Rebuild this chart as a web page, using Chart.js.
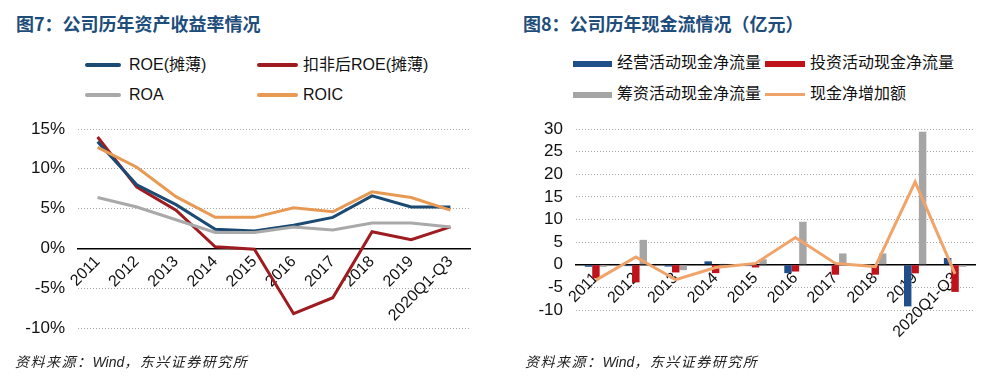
<!DOCTYPE html>
<html>
<head>
<meta charset="utf-8">
<script src="https://cdn.jsdelivr.net/npm/chart.js@4/dist/chart.umd.min.js"></script>
<style>
  body { margin: 0; background: #fff; width: 993px; height: 377px; position: relative; overflow: hidden;
         font-family: "Liberation Sans", "Noto Sans CJK SC", sans-serif; }
  .titulo { position: absolute; top: 11px; font-family: "Noto Sans CJK SC"; font-weight: bold; font-size: 18px;
            color: #1E4D7B; line-height: 24px; white-space: nowrap; }
  .leg { position: absolute; font-size: 16px; color: #111; line-height: 20px; white-space: nowrap;
         font-family: "Liberation Sans", "Noto Sans CJK SC", sans-serif; }
  .leg i { position: absolute; display: block; }
  .fonte { position: absolute; top: 351px; font-family: "Noto Sans CJK SC"; font-style: italic; font-size: 14px;
           letter-spacing: 1.5px; color: #222; white-space: nowrap; }
  .fonte b { font-family: "Liberation Sans"; font-weight: normal; letter-spacing: 0; }
  canvas { position: absolute; }
</style>
</head>
<body>
<div class="titulo" style="left:16px">图7：公司历年资产收益率情况</div>
<div class="titulo" style="left:523px">图8：公司历年现金流情况（亿元）</div>

<div class="leg" style="left:0;top:0">
  <i style="left:85px;top:63px;width:36px;height:4px;background:#1B4A72;border-radius:2px"></i>
  <span style="position:absolute;left:129px;top:55px">ROE(摊薄)</span>
  <i style="left:257px;top:63px;width:41px;height:4px;background:#9E1B20;border-radius:2px"></i>
  <span style="position:absolute;left:303px;top:55px">扣非后ROE(摊薄)</span>
  <i style="left:85px;top:93px;width:36px;height:4px;background:#A9A9A9;border-radius:2px"></i>
  <span style="position:absolute;left:129px;top:85px">ROA</span>
  <i style="left:257px;top:93px;width:41px;height:4px;background:#E89A55;border-radius:2px"></i>
  <span style="position:absolute;left:303px;top:85px">ROIC</span>
</div>

<div class="leg" style="left:0;top:0">
  <i style="left:573px;top:61px;width:39px;height:6px;background:#1F4E8A"></i>
  <span style="position:absolute;left:617px;top:53px">经营活动现金净流量</span>
  <i style="left:765px;top:61px;width:40px;height:6px;background:#C0121A"></i>
  <span style="position:absolute;left:810px;top:53px">投资活动现金净流量</span>
  <i style="left:573px;top:92px;width:39px;height:6px;background:#A5A5A5"></i>
  <span style="position:absolute;left:617px;top:84px">筹资活动现金净流量</span>
  <i style="left:765px;top:93px;width:40px;height:3px;background:#F0A46A"></i>
  <span style="position:absolute;left:810px;top:84px">现金净增加额</span>
</div>

<canvas id="grafico_roe" width="480" height="247" style="left:0;top:105px"></canvas>
<canvas id="grafico_caixa" width="485" height="247" style="left:500px;top:105px"></canvas>

<div class="fonte" style="left:15px">资料来源：<b>Wind</b>，东兴证券研究所</div>
<div class="fonte" style="left:525px">资料来源：<b>Wind</b>，东兴证券研究所</div>

<script>
// dados
const anos = ['2011', '2012', '2013', '2014', '2015', '2016', '2017', '2018', '2019', '2020Q1-Q3'];

const roe = [13.4, 8.0, 5.5, 2.4, 2.2, 2.9, 3.9, 6.6, 5.2, 5.2];
const roe_kf = [14.0, 7.7, 4.8, 0.2, -0.1, -8.2, -6.2, 2.1, 1.1, 2.7];
const roa = [6.4, 5.2, 3.6, 2.0, 2.0, 2.7, 2.3, 3.2, 3.2, 2.7];
const roic = [12.7, 10.2, 6.5, 3.9, 3.9, 5.1, 4.6, 7.1, 6.4, 4.8];

const caixa_operacional = [-0.45, -0.3, -0.4, 0.75, -0.3, -1.85, -0.2, -0.3, -9.2, 1.5];
const caixa_investimento = [-3.0, -3.9, -1.7, -1.85, -0.6, -1.5, -2.2, -2.2, -1.9, -6.0];
const caixa_financiamento = [-0.45, 5.5, -1.2, 0.2, 1.2, 9.5, 2.5, 2.5, 29.4, -0.45];
const caixa_liquido = [-3.4, 1.7, -3.3, -0.6, 0.3, 6.0, 0.3, -0.4, 18.3, -2.0];

const ticks_roe = [-10, -5, 0, 5, 10, 15];
const ticks_caixa = [-10, -5, 0, 5, 10, 15, 20, 25, 30];

Chart.defaults.font.family = '"Liberation Sans", "Noto Sans CJK SC", sans-serif';
Chart.defaults.color = '#111';
Chart.defaults.animation = false;

function linha(label, data, cor) {
    return {
        type: 'line',
        label: label,
        data: data,
        borderColor: cor,
        backgroundColor: cor,
        borderWidth: 3,
        pointRadius: 0,
        tension: 0,
        order: 0
    }
}

function eixoX() {
    return {
        position: { y: 0 },
        offset: true,
        grid: { display: false, drawTicks: false },
        border: { display: true, color: '#000', width: 1.5 },
        ticks: { font: { size: 16 }, minRotation: 45, maxRotation: 45, padding: 4, autoSkip: false }
    }
}

function eixoY(min, max, valores, largura, fmt) {
    return {
        min: min,
        max: max,
        afterBuildTicks: (s) => { s.ticks = valores.map(v => ({ value: v })) },
        afterFit: (s) => { s.width = largura },
        grid: {
            drawTicks: false,
            color: (c) => c.tick && c.tick.value === 0 ? 'rgba(0,0,0,0)' : '#a8a8a8',
            lineWidth: 1
        },
        border: { display: false, dash: [1, 2] },
        ticks: { font: { size: 17 }, padding: 13, autoSkip: false, callback: fmt }
    }
}

new Chart(document.getElementById('grafico_roe').getContext('2d'), {
    type: 'line',
    data: {
        labels: anos,
        datasets: [
            linha('ROA', roa, '#A9A9A9'),
            linha('ROIC', roic, '#E89A55'),
            linha('ROE(摊薄)', roe, '#1B4A72'),
            linha('扣非后ROE(摊薄)', roe_kf, '#9E1B20')
        ]
    },
    options: {
        responsive: false,
        layout: { padding: { top: 24, right: 10, bottom: 24, left: 0 } },
        plugins: { legend: { display: false }, tooltip: { enabled: false } },
        scales: {
            x: eixoX(),
            y: eixoY(-10, 15, ticks_roe, 78, (v) => v + '%')
        }
    }
});

function barra(label, data, cor) {
    return {
        type: 'bar',
        label: label,
        data: data,
        backgroundColor: cor,
        borderWidth: 0,
        categoryPercentage: 0.56,
        barPercentage: 1,
        order: 1
    }
}

const linha_caixa = linha('现金净增加额', caixa_liquido, '#F0A46A');

new Chart(document.getElementById('grafico_caixa').getContext('2d'), {
    type: 'bar',
    data: {
        labels: anos,
        datasets: [
            barra('经营活动现金净流量', caixa_operacional, '#1F4E8A'),
            barra('投资活动现金净流量', caixa_investimento, '#C0121A'),
            barra('筹资活动现金净流量', caixa_financiamento, '#A5A5A5'),
            linha_caixa
        ]
    },
    options: {
        responsive: false,
        layout: { padding: { top: 24, right: 10, bottom: 42, left: 0 } },
        plugins: { legend: { display: false }, tooltip: { enabled: false } },
        scales: {
            x: eixoX(),
            y: eixoY(-10, 30, ticks_caixa, 76, (v) => v)
        }
    }
});
</script>
</body>
</html>
